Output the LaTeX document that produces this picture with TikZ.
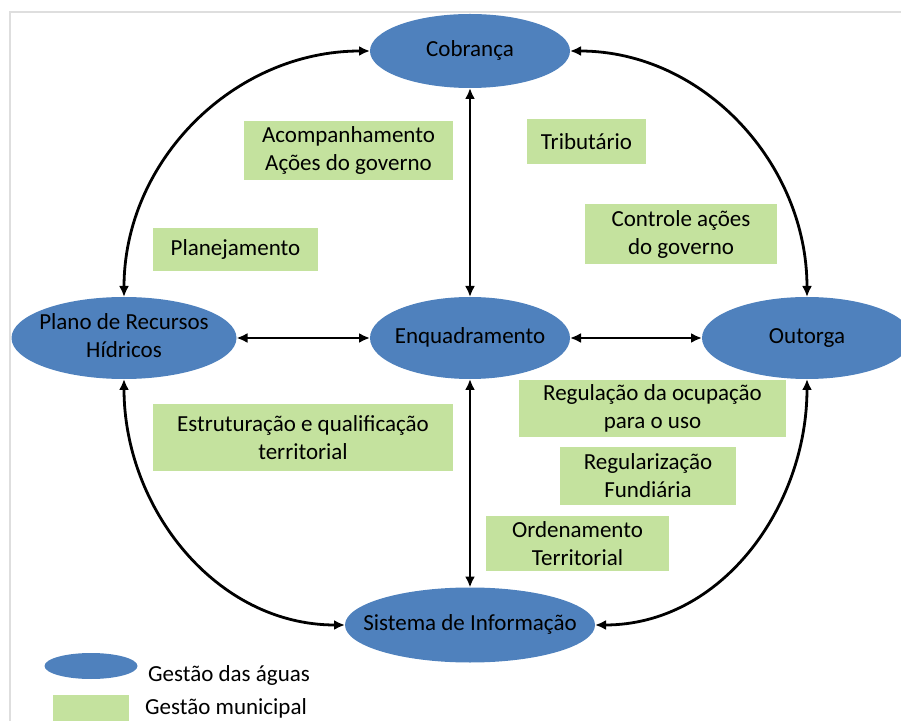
\documentclass[tikz,border=0pt]{standalone}
\usepackage{fontspec}
\setmainfont{Carlito}
\usetikzlibrary{shapes.geometric, arrows.meta}
\definecolor{aguas}{RGB}{79,129,189}
\definecolor{verde}{RGB}{196,226,158}
\tikzstyle{water} = [ellipse, fill=aguas, inner sep=0pt, outer sep=0pt,
                 font=\fontsize{23}{28}\selectfont]
\tikzstyle{city} = [rectangle, fill=verde, inner sep=0pt, align=center,
                 font=\fontsize{23}{28}\selectfont]
\tikzstyle{link} = [line width=2.8pt,
                 {Latex[length=11pt,width=10pt]}-{Latex[length=11pt,width=10pt]}]
% text of zero width, so the ellipse keeps its size
\newcommand{\inell}[1]{\makebox[0pt]{\begin{tabular}{@{}c@{}}#1\end{tabular}}}

\begin{document}
\begin{tikzpicture}[x=1pt,y=1pt]
\useasboundingbox (0,0) rectangle (901,720);
%frame
\draw[black!13, line width=2pt] (10,-5) |- (910,708);

\node [water, minimum width=200, minimum height=74] at (470,669) (cob) {\inell{Cobrança}};
\node [water, minimum width=225, minimum height=82] at (124,382) (plano) {\inell{Plano de Recursos\\Hídricos}};
\node [water, minimum width=200, minimum height=82] at (470,382) (enq) {\inell{Enquadramento}};
\node [water, minimum width=210, minimum height=82] at (807,382) (out) {\inell{Outorga}};
\node [water, minimum width=250, minimum height=75] at (470,95) (sis) {\inell{Sistema de Informação}};

\node [city, minimum width=209, minimum height=59] at (348.5,569.5) (acomp) {Acompanhamento\\Ações do governo};
\node [city, minimum width=119, minimum height=45] at (586.5,578.5) (trib) {Tributário};
\node [city, minimum width=192, minimum height=60] at (681,486) (contr) {Controle ações\\do governo};
\node [city, minimum width=165, minimum height=43] at (235.5,470.5) (plan) {Planejamento};
\node [city, minimum width=300, minimum height=67] at (303,282.5) (estr) {Estruturação e qualificação\\territorial};
\node [city, minimum width=267, minimum height=57] at (652.5,311.5) (regul) {Regulação da ocupação\\para o uso};
\node [city, minimum width=176, minimum height=58] at (648,244) (fund) {Regularização\\Fundiária};
\node [city, minimum width=183, minimum height=55] at (577.5,176.5) (orden) {Ordenamento\\Territorial};

\draw[link] (cob) -- (enq);
\draw[link] (enq) -- (sis);
\draw[link] (plano) -- (enq);
\draw[link] (enq) -- (out);
\draw[link] (plano.north) to[out=90,in=180] (cob.west);
\draw[link] (cob.east) to[out=0,in=90] (out.north);
\draw[link] (plano.south) to[out=-90,in=180] (sis.west);
\draw[link] (out.south) to[out=-90,in=0] (sis.east);

%legend
\node [water, minimum width=93, minimum height=26] at (91,54) (leg1) {};
\node [city, minimum width=76, minimum height=30] at (91,10) (leg2) {};
\node [anchor=west, font=\fontsize{23}{28}\selectfont, inner sep=0pt] at (148,45) (legt1) {Gestão das águas};
\node [anchor=west, font=\fontsize{23}{28}\selectfont, inner sep=0pt] at (145,12) (legt2) {Gestão municipal};
\end{tikzpicture}
\end{document}
